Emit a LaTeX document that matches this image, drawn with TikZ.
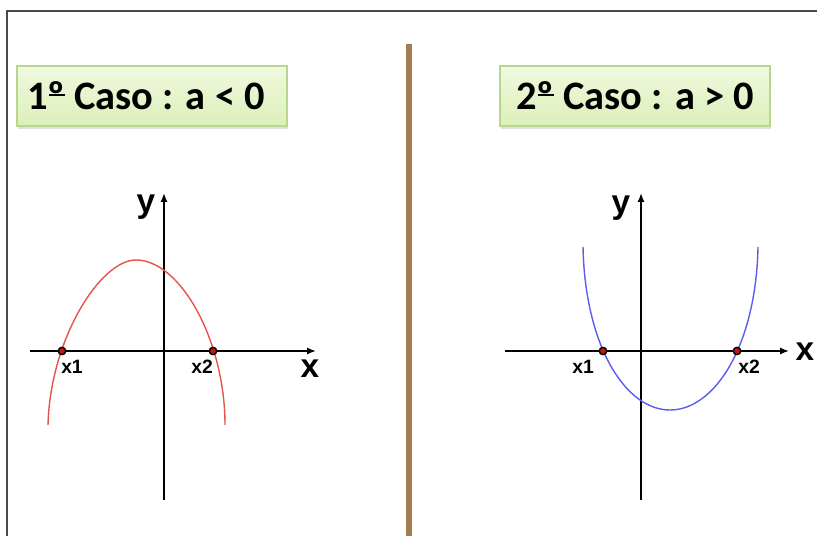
\documentclass[tikz,border=0pt]{standalone}
\usepackage{fontspec}
\setmainfont{Liberation Sans}
\newfontfamily\casofont{Carlito}
\usetikzlibrary{arrows.meta,shadows}
\definecolor{framegray}{HTML}{4A4A4A}
\definecolor{polebrown}{HTML}{A47C52}
\definecolor{boxtop}{HTML}{F1F9DF}
\definecolor{boxbottom}{HTML}{DCEFB9}
\definecolor{boxedge}{HTML}{B7D88C}
\definecolor{curvered}{HTML}{E5544B}
\definecolor{curveblue}{HTML}{5C5CF2}
\definecolor{rootred}{HTML}{C3160C}
\newcommand{\ordo}{\makebox[0pt][l]{\hspace{0.03em}\raisebox{0.33em}{\rule{0.4em}{0.07em}}}º}

\begin{document}
\begin{tikzpicture}[x=0.02cm, y=-0.02cm]
    \tikzset{caso/.style={draw=boxedge, line width=0.8pt, top color=boxtop, bottom color=boxbottom,
                          minimum width=5.4cm, minimum height=1.2cm, inner sep=0pt,
                          drop shadow={opacity=0.25, shadow xshift=0.6pt, shadow yshift=-1.6pt},
                          font=\casofont\bfseries\fontsize{23}{25}\selectfont},
             axis/.style={line width=1.1pt, -{Latex[length=5pt, width=4pt]}},
             root/.style={circle, draw=black, fill=rootred, line width=0.8pt,
                          minimum size=4.2pt, inner sep=0pt},
             rootlabel/.style={font=\bfseries\fontsize{11}{12}\selectfont, inner sep=0pt},
             axislabel/.style={font=\bfseries\fontsize{19}{20}\selectfont, inner sep=0pt}}
    \useasboundingbox (0,0) rectangle (817,536);
    % frame and divider
    \draw[framegray, line width=0.6pt] (7,536) -- (7,11) -- (817,11);
    \draw[polebrown, line width=3.8pt] (409,44) -- (409,536);
    % titles
    \node[caso] (casoA) at (152,96) {\hspace{-0.3em}1\ordo{} Caso : a < 0};
    \node[caso] (casoB) at (635,96) {2\ordo{} Caso : a > 0};
    % first case, a < 0
    \coordinate (xAstart) at (30,351);
    \coordinate (xAend) at (316,351);
    \coordinate (yAstart) at (164,500);
    \coordinate (yAend) at (164,193);
    \draw[axis] (xAstart) -- (xAend);
    \draw[axis] (yAstart) -- (yAend);
    \draw[curvered, line width=0.8pt] (48,425) .. controls (50,340) and (100,260) .. (136,260)
        .. controls (180,260) and (225,340) .. (225,425);
    \node[root] (rootA1) at (62,351) {};
    \node[root] (rootA2) at (213,351) {};
    \node[rootlabel] (labA1) at (72,367) {x1};
    \node[rootlabel] (labA2) at (202,367) {x2};
    \node[axislabel] (labAy) at (146,207) {y};
    \node[axislabel] (labAx) at (310,369) {x};
    % second case, a > 0
    \coordinate (xBstart) at (505,351);
    \coordinate (xBend) at (789,351);
    \coordinate (yBstart) at (641,500);
    \coordinate (yBend) at (641,193);
    \draw[axis] (xBstart) -- (xBend);
    \draw[axis] (yBstart) -- (yBend);
    \draw[curveblue, line width=0.8pt] (583,247) .. controls (585,345) and (625,410) .. (670,410)
        .. controls (715,410) and (756,345) .. (758,247);
    \node[root] (rootB1) at (603,351) {};
    \node[root] (rootB2) at (737,351) {};
    \node[rootlabel] (labB1) at (583,367) {x1};
    \node[rootlabel] (labB2) at (749,367) {x2};
    \node[axislabel] (labBy) at (621,208) {y};
    \node[axislabel] (labBx) at (805,352) {x};
\end{tikzpicture}
\end{document}
